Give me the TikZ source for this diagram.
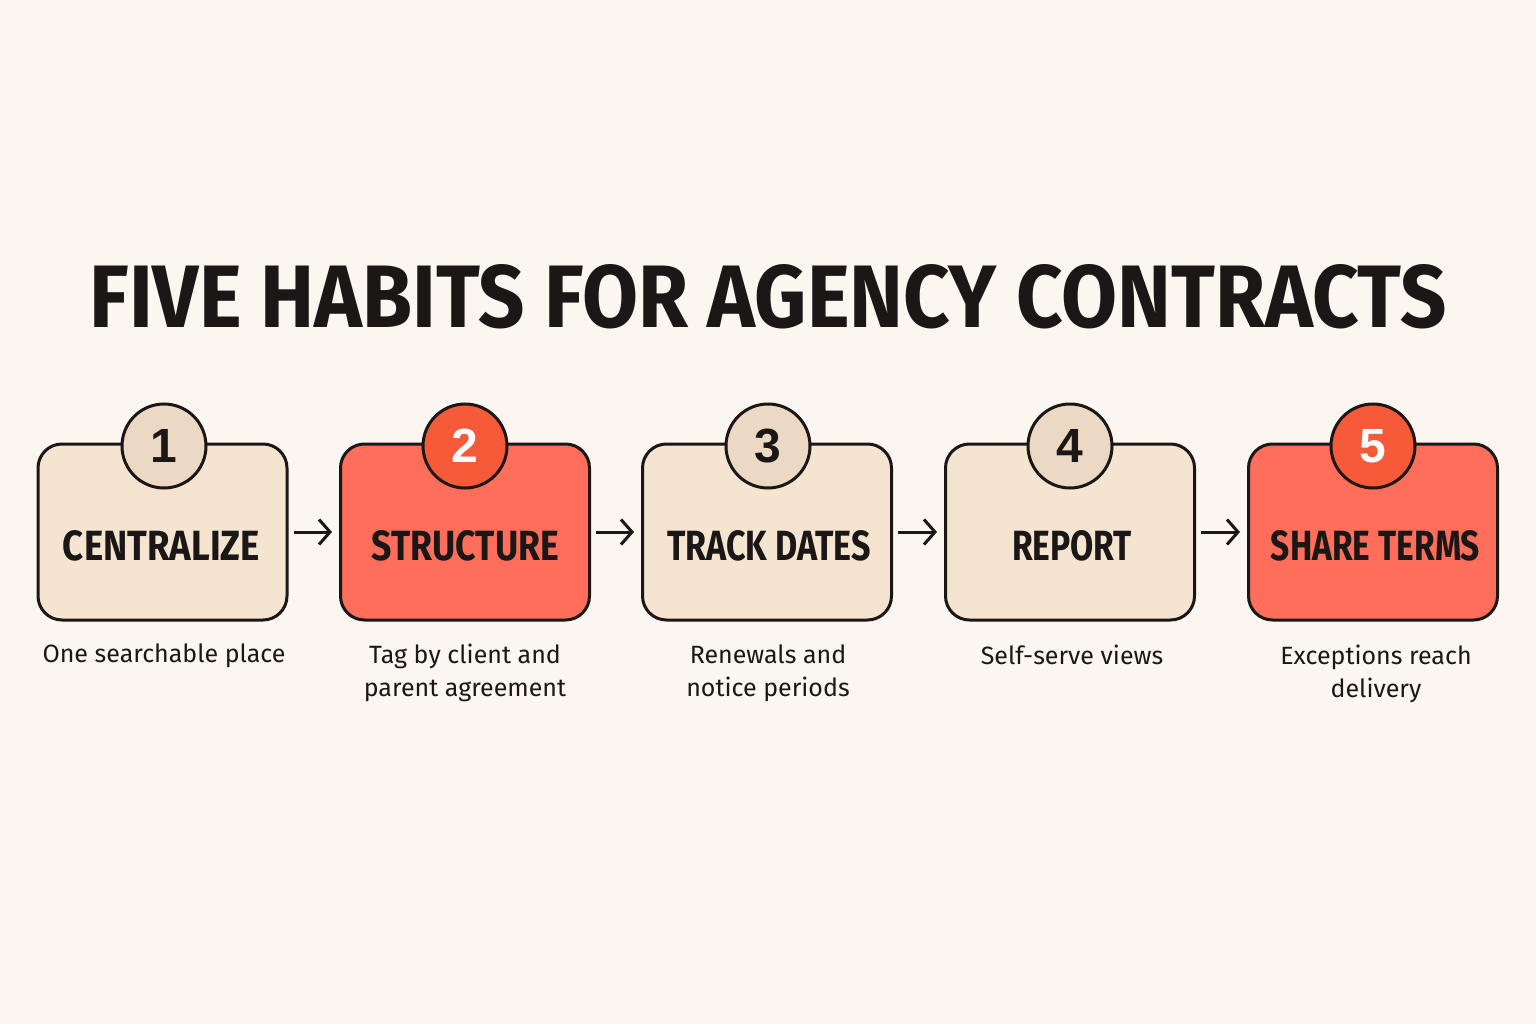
\documentclass[tikz,border=0pt]{standalone}
\usepackage{fontspec}
\setmainfont{Fira Sans}
\newfontfamily\numfont{Liberation Sans}
\usetikzlibrary{arrows.meta}
\definecolor{bg}{HTML}{FCF6F0}
\definecolor{beige}{HTML}{F4E4D0}
\definecolor{beigedark}{HTML}{EBD9C4}
\definecolor{coral}{HTML}{FF6E5A}
\definecolor{coraldark}{HTML}{F75A38}
\definecolor{ink}{HTML}{1A1716}
\tikzset{
  stepbox/.style={draw=ink, line width=3pt, rounded corners=24pt, minimum width=249pt, minimum height=176pt, inner sep=0pt},
  beigebox/.style={stepbox, fill=beige},
  coralbox/.style={stepbox, fill=coral},
  badge/.style={circle, draw=ink, line width=3pt, minimum size=84pt, inner sep=0pt, font=\numfont\fontsize{48}{48}\selectfont\bfseries},
  beigebadge/.style={badge, fill=beigedark, text=ink},
  coralbadge/.style={badge, fill=coraldark, text=white},
  boxlabel/.style={text=ink, inner sep=0pt},
  caption/.style={text=ink, align=center, font=\fontsize{25}{33}\selectfont, inner sep=0pt},
  arr/.style={draw=ink, line width=3pt, -{Straight Barb[length=11pt,width=25pt]}, shorten <=5pt, shorten >=7pt}
}
\newcommand{\blab}[2]{\resizebox{#1pt}{30pt}{\bfseries #2}}
\begin{document}
\begin{tikzpicture}[x=1pt,y=-1pt]
\fill[bg] (0,0) rectangle (1536,1024);
\useasboundingbox (0,0) rectangle (1536,1024);
\node[text=ink, inner sep=0pt] (title) at (768,296.5) {\resizebox{1356pt}{63pt}{\bfseries FIVE HABITS FOR AGENCY CONTRACTS}};

\node[beigebox] (b1) at (162.5,532) {};
\node[coralbox] (b2) at (465,532) {};
\node[beigebox] (b3) at (767,532) {};
\node[beigebox] (b4) at (1070,532) {};
\node[coralbox] (b5) at (1373,532) {};

\node[beigebadge] (c1) at (164,446) {1};
\node[coralbadge] (c2) at (465,446) {2};
\node[beigebadge] (c3) at (768,446) {3};
\node[beigebadge] (c4) at (1070,446) {4};
\node[coralbadge] (c5) at (1373,446) {5};

\node[boxlabel] (l1) at (161.5,546) {\blab{197}{CENTRALIZE}};
\node[boxlabel] (l2) at (465.5,546) {\blab{187}{STRUCTURE}};
\node[boxlabel] (l3) at (769,546) {\blab{204}{TRACK DATES}};
\node[boxlabel] (l4) at (1072,546) {\blab{120}{REPORT}};
\node[boxlabel] (l5) at (1375.5,546) {\blab{209}{SHARE TERMS}};

\node[caption, anchor=north] (t1) at (164,644) {One searchable place};
\node[caption, anchor=north] (t2) at (465,644) {Tag by client and\\parent agreement};
\node[caption, anchor=north] (t3) at (768,645) {Renewals and\\notice periods};
\node[caption, anchor=north] (t4) at (1072,645) {Self-serve views};
\node[caption, anchor=north] (t5) at (1376,645) {Exceptions reach\\delivery};

\draw[arr] (b1) -- (b2);
\draw[arr] (b2) -- (b3);
\draw[arr] (b3) -- (b4);
\draw[arr] (b4) -- (b5);
\end{tikzpicture}
\end{document}
